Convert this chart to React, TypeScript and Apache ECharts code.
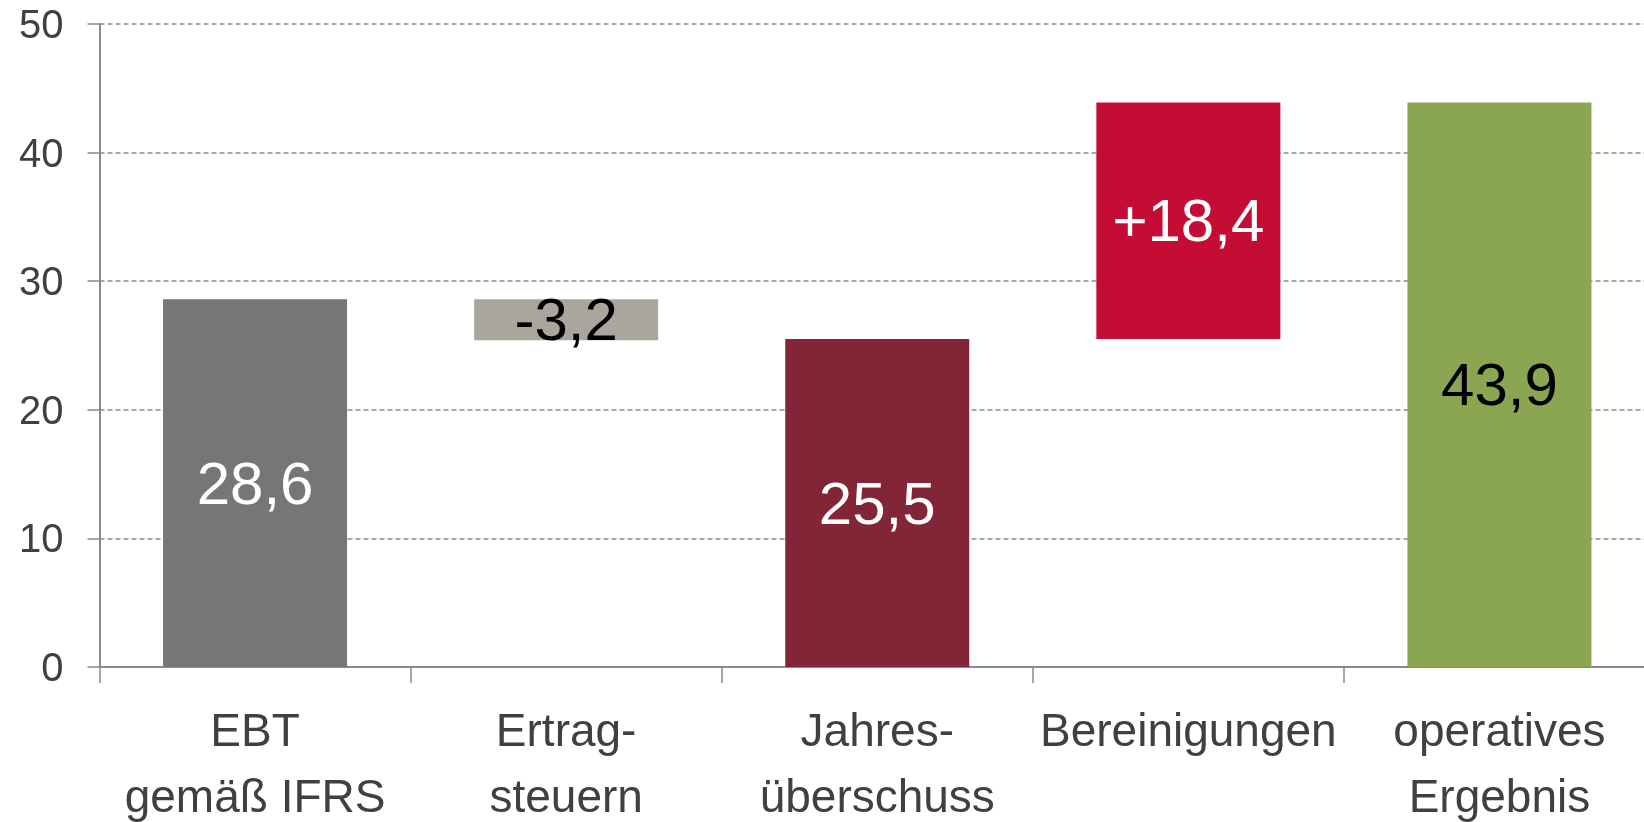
import React, { useEffect, useRef } from "react";
import * as echarts from "echarts";

const categories = ["EBT\ngemäß IFRS", "Ertrag-\nsteuern", "Jahres-\nüberschuss", "Bereinigungen", "operatives\nErgebnis"];
const baseValues = [0, 25.4, 0, 25.5, 0];
const barValues = [28.6, 3.2, 25.5, 18.4, 43.9];
const barLabels = ["28,6", "-3,2", "25,5", "+18,4", "43,9"];
const barColors = ["#767676", "#aaa69e", "#822537", "#c50c35", "#8ba650"];
const labelColors = ["#ffffff", "#000000", "#ffffff", "#ffffff", "#000000"];
const yTicks = { min: 0, max: 50, interval: 10 };

const FONT = "'Liberation Sans', Arial, sans-serif";

export default function App() {
  const ref = useRef<HTMLDivElement>(null);
  useEffect(() => {
    document.body.style.margin = "0";
    document.body.style.overflow = "hidden";
    if (!ref.current) return;
    const chart = echarts.init(ref.current, undefined, { renderer: "svg" });
    chart.setOption({
      animation: false,
      grid: {
        left: 99.5,
        right: -11,
        top: 24,
        bottom: 155,
        containLabel: false,
        outerBoundsMode: "none",
      },
      xAxis: {
        type: "category",
        data: categories,
        axisLine: { show: true, lineStyle: { color: "#8a8a8a", width: 2 } },
        axisTick: { show: true, length: 16, lineStyle: { color: "#8a8a8a", width: 1.5 } },
        axisLabel: {
          color: "#404040",
          fontSize: 46,
          fontFamily: FONT,
          lineHeight: 66,
          margin: 30,
          interval: 0,
        },
      },
      yAxis: {
        type: "value",
        min: yTicks.min,
        max: yTicks.max,
        interval: yTicks.interval,
        axisLine: { show: true, lineStyle: { color: "#8a8a8a", width: 2 } },
        axisTick: { show: true, length: 12, lineStyle: { color: "#8a8a8a", width: 1.5 } },
        axisLabel: { color: "#404040", fontSize: 40, fontFamily: FONT, margin: 36 },
        splitLine: { show: true, lineStyle: { color: "#8c8c8c", type: [5, 3], width: 1.5 } },
      },
      series: [
        {
          type: "bar",
          stack: "w",
          barWidth: 184,
          itemStyle: { color: "transparent" },
          data: baseValues,
          silent: true,
        },
        {
          type: "bar",
          stack: "w",
          barWidth: 184,
          data: barValues.map((v, i) => ({
            value: v,
            itemStyle: { color: barColors[i] },
            label: {
              show: true,
              position: "inside",
              formatter: barLabels[i],
              color: labelColors[i],
              fontSize: 60,
              fontFamily: FONT,
            },
          })),
        },
      ],
    });
    return () => chart.dispose();
  }, []);
  return (
    <div
      ref={ref}
      style={{ position: "fixed", left: 0, top: 0, width: 1644, height: 822, overflow: "hidden" }}
    />
  );
}
